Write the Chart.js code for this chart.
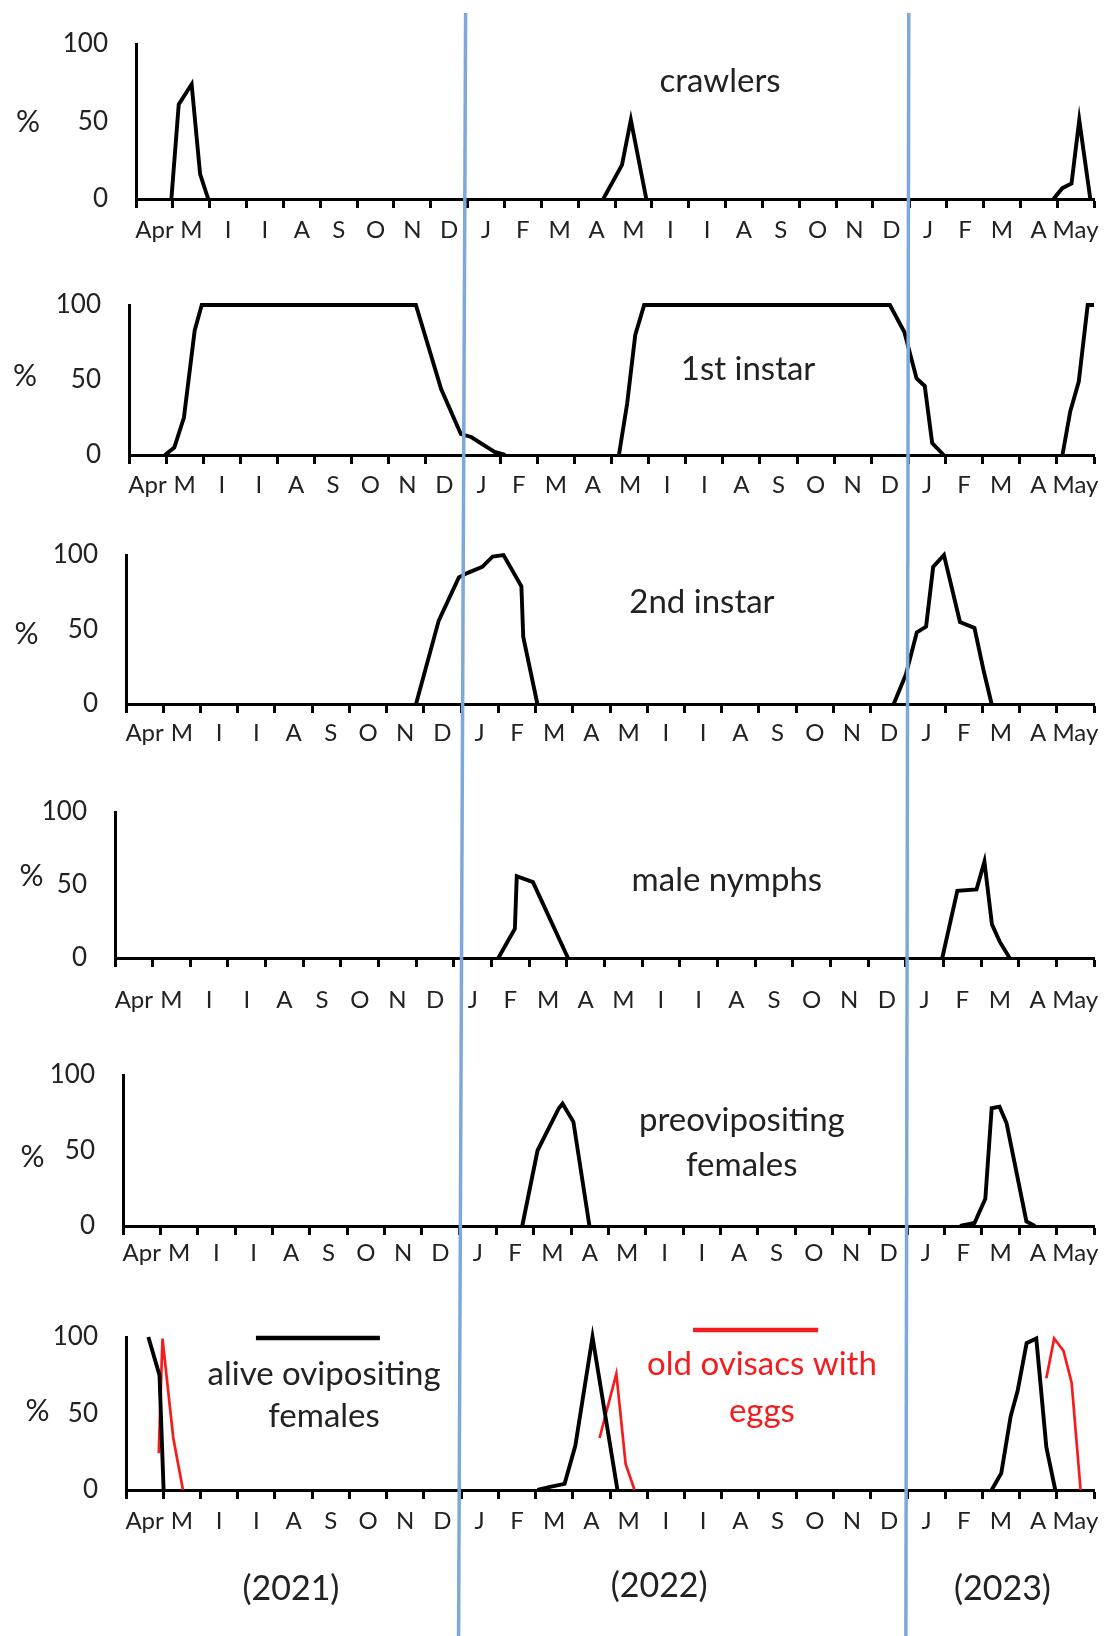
<!DOCTYPE html>
<html>
<head>
<meta charset="utf-8">
<script src="https://cdn.jsdelivr.net/npm/chart.js@4.4.1/dist/chart.umd.min.js"></script>
<style>
  html, body { margin: 0; padding: 0; background: #fff; }
  #fig { position: relative; width: 1114px; height: 1636px; overflow: hidden; background: #fff; }
  #fig canvas { position: absolute; left: 0; }
</style>
</head>
<body>
<div id="fig"></div>
<script>
// Month labels, April 2021 to May 2023 (one per monthly interval)
const months = ['Apr','M','I','I','A','S','O','N','D','J','F','M','A','M','I','I','A','S','O','N','D','J','F','M','A','May'];
const yTicks = [0, 50, 100];

// x = months elapsed since 1 April 2021, y = % ; null splits the seasons
const crawlersX = [0.96, 1.16, 1.51, 1.74, 1.96, null, 12.68, 13.19, 13.43, 13.85, null, 24.9, 25.14, 25.39, 25.6, 25.9];
const crawlersY = [0, 61, 74, 16, 0, null, 0, 22, 51, 0, null, 0, 7, 10, 51, 0];

const firstInstarX = [0.97, 1.22, 1.48, 1.77, 1.96, 7.73, 8.41, 8.94, 9.22, 9.85, 10.14, null, 13.2, 13.42, 13.64, 13.88, 20.5, 20.89, 21.22, 21.44, 21.64, 21.95, null, 25.15, 25.36, 25.59, 25.83, 26];
const firstInstarY = [0, 5, 25, 83, 100, 100, 44, 14, 12, 2, 0, null, 0, 34, 80, 100, 100, 82, 51, 46, 8, 0, null, 0, 29, 49, 100, 100];

const secondInstarX = [7.79, 8.4, 8.94, 9.18, 9.57, 9.85, 10.14, 10.62, 10.67, 11.05, null, 20.62, 20.95, 21.24, 21.49, 21.68, 21.97, 22.4, 22.79, 23.03, 23.25];
const secondInstarY = [0, 56, 85, 88, 92, 99, 100, 79, 45, 0, null, 0, 20, 48, 52, 92, 100, 55, 51, 23, 0];

const maleNymphsX = [10.18, 10.62, 10.67, 11.1, 12.03, null, 21.97, 22.37, 22.88, 23.09, 23.29, 23.5, 23.76];
const maleNymphsY = [0, 20, 56, 52, 0, null, 0, 46, 47, 66, 23, 11, 0];

const preovipositingX = [10.69, 11.1, 11.67, 11.77, 12.06, 12.49, null, 22.41, 22.8, 23.09, 23.26, 23.47, 23.66, 24.19, 24.42];
const preovipositingY = [0, 50, 78, 81, 69, 0, null, 0, 2, 18, 78, 79, 68, 3, 0];

const ovipositingX = [0.6, 0.9, 1.01, null, 11.05, 11.39, 11.78, 12.07, 12.53, 13.2, null, 23.25, 23.51, 23.76, 23.95, 24.19, 24.45, 24.72, 24.96];
const ovipositingY = [100, 75, 0, null, 0, 2, 4, 29, 100, 0, null, 0, 11, 48, 65, 96, 99, 28, 0];

const ovisacsX = [0.88, 0.98, 1.27, 1.53, null, 12.72, 13.17, 13.42, 13.66, null, 24.72, 24.93, 25.18, 25.4, 25.64];
const ovisacsY = [24, 99, 34, 0, null, 34, 76, 17, 0, null, 73, 99, 91, 70, 0];

const years = ['(2021)', '(2022)', '(2023)'];

// ---------------------------------------------------------------------------
const FONT = 'Lato, "Liberation Sans", Arial, sans-serif';
const INK = '#222';
const RED = '#f41c1c';
const BLUE = '#7ea7da';

function toPoints(xs, ys) {
  const pts = [];
  let lastX = 0;
  xs.forEach((x, i) => {
    if (x === null || ys[i] === null) { pts.push({ x: lastX, y: null }); }
    else { pts.push({ x: x, y: ys[i] }); lastX = x; }
  });
  return pts;
}

function lineSet(xs, ys, color, width) {
  return {
    data: toPoints(xs, ys),
    borderColor: color,
    borderWidth: width,
    pointRadius: 0,
    tension: 0,
    spanGaps: false,
    clip: false,
    fill: false
  };
}

// Text, key lines and the "%" caption, placed through the chart's scales
const notesPlugin = {
  id: 'notes',
  afterDraw(chart, args, opts) {
    const { ctx, scales: { x, y } } = chart;
    ctx.save();
    (opts.items || []).forEach(n => {
      if (n.kind === 'text') {
        ctx.font = n.size + 'px ' + FONT;
        ctx.fillStyle = n.color || INK;
        ctx.textAlign = 'center';
        ctx.textBaseline = 'middle';
        ctx.fillText(n.text, x.getPixelForValue(n.x), y.getPixelForValue(n.y));
      } else if (n.kind === 'key') {
        ctx.strokeStyle = n.color;
        ctx.lineWidth = n.width;
        ctx.beginPath();
        ctx.moveTo(x.getPixelForValue(n.x0), y.getPixelForValue(n.y));
        ctx.lineTo(x.getPixelForValue(n.x1), y.getPixelForValue(n.y));
        ctx.stroke();
      }
    });
    if (opts.pct) {
      ctx.font = '30px ' + FONT;
      ctx.fillStyle = INK;
      ctx.textAlign = 'center';
      ctx.textBaseline = 'middle';
      ctx.fillText('%', opts.pct[0], y.getPixelForValue(50) + opts.pct[1]);
    }
    ctx.restore();
  }
};

const panels = [
  { top: 0, height: 262, chartTop: 44, chartBottom: 199, left: 136, labelPad: 8, pct: [28, 0.5],
    sets: [lineSet(crawlersX, crawlersY, '#000', 3.9)],
    items: [{ kind: 'text', text: 'crawlers', x: 15.85, y: 75.9, size: 33 }] },
  { top: 262, height: 250, chartTop: 305, chartBottom: 455, left: 129, labelPad: 7, pct: [25, -3.5],
    sets: [lineSet(firstInstarX, firstInstarY, '#000', 3.9)],
    items: [{ kind: 'text', text: '1st instar', x: 16.68, y: 56.9, size: 33 }] },
  { top: 512, height: 258, chartTop: 555, chartBottom: 704, left: 126, labelPad: 6, pct: [26.5, 5],
    sets: [lineSet(secondInstarX, secondInstarY, '#000', 3.9)],
    items: [{ kind: 'text', text: '2nd instar', x: 15.47, y: 68.2, size: 33 }] },
  { top: 770, height: 262, chartTop: 812, chartBottom: 958, left: 115, labelPad: 19, pct: [31.5, -8.5],
    sets: [lineSet(maleNymphsX, maleNymphsY, '#000', 3.9)],
    items: [{ kind: 'text', text: 'male nymphs', x: 16.25, y: 53.4, size: 33 }] },
  { top: 1032, height: 268, chartTop: 1075, chartBottom: 1226, left: 123, labelPad: 4, pct: [32.5, 6.5],
    sets: [lineSet(preovipositingX, preovipositingY, '#000', 3.9)],
    items: [{ kind: 'text', text: 'preovipositing', x: 16.57, y: 70, size: 33 },
            { kind: 'text', text: 'females', x: 16.57, y: 40.3, size: 33 }] },
  { top: 1300, height: 336, chartTop: 1337, chartBottom: 1490, left: 126, labelPad: 8, pct: [37.5, -2],
    sets: [lineSet(ovipositingX, ovipositingY, '#000', 3.9), lineSet(ovisacsX, ovisacsY, RED, 2.7)],
    items: [
      { kind: 'key', x0: 3.49, x1: 6.82, y: 99.3, color: '#000', width: 4.5 },
      { kind: 'text', text: 'alive ovipositing', x: 5.32, y: 75.8, size: 33 },
      { kind: 'text', text: 'females', x: 5.32, y: 48.4, size: 33 },
      { kind: 'key', x0: 15.23, x1: 18.59, y: 104.6, color: RED, width: 4.5 },
      { kind: 'text', text: 'old ovisacs with', x: 17.08, y: 82.4, size: 33, color: RED },
      { kind: 'text', text: 'eggs', x: 17.08, y: 51.6, size: 33, color: RED },
      { kind: 'text', text: years[0], x: 4.43, y: -64.7, size: 34 },
      { kind: 'text', text: years[1], x: 14.32, y: -62.7, size: 34 },
      { kind: 'text', text: years[2], x: 23.54, y: -64.7, size: 34 }
    ] }
];

const fig = document.getElementById('fig');
const charts = [];

panels.forEach(p => {
  const cv = document.createElement('canvas');
  cv.width = 1114; cv.height = p.height;
  cv.style.top = p.top + 'px';
  cv.style.width = '1114px'; cv.style.height = p.height + 'px';
  fig.appendChild(cv);

  const below = p.top + p.height - p.chartBottom;
  const xAxisHeight = Math.min(below, 62);
  const chart = new Chart(cv.getContext('2d'), {
    type: 'line',
    data: { datasets: p.sets },
    options: {
      responsive: false,
      animation: false,
      devicePixelRatio: 1,
      layout: { padding: { top: p.chartTop - p.top, right: 20, bottom: below - xAxisHeight, left: 0 } },
      plugins: {
        legend: { display: false },
        tooltip: { enabled: false },
        notes: { items: p.items, pct: p.pct }
      },
      scales: {
        x: {
          type: 'linear',
          min: 0, max: 26,
          offset: false,
          afterBuildTicks: s => {
            const t = [];
            for (let v = 0; v <= 26; v += 0.5) t.push({ value: v });
            s.ticks = t;
          },
          afterFit: s => {
            s.height = xAxisHeight;
            s.paddingLeft = 0; s.paddingRight = 0;
          },
          border: { display: true, color: '#000', width: 3 },
          grid: {
            drawOnChartArea: false,
            drawTicks: true,
            tickLength: 9,
            tickWidth: 3,
            color: 'rgba(0,0,0,0)',
            tickColor: c => (c.tick && Number.isInteger(c.tick.value)) ? '#000' : 'rgba(0,0,0,0)'
          },
          ticks: {
            autoSkip: false,
            maxRotation: 0, minRotation: 0,
            padding: p.labelPad,
            color: INK,
            font: { family: FONT, size: 24 },
            callback: v => (Math.abs(v % 1 - 0.5) < 1e-6) ? months[Math.floor(v)] : ''
          }
        },
        y: {
          type: 'linear',
          min: 0, max: 100,
          afterBuildTicks: s => { s.ticks = yTicks.map(v => ({ value: v })); },
          afterFit: s => {
            s.width = p.left;
            s.paddingTop = 0; s.paddingBottom = 0;
          },
          border: { display: true, color: '#000', width: 3 },
          grid: { drawOnChartArea: false, drawTicks: false },
          ticks: {
            padding: 28,
            color: INK,
            font: { family: FONT, size: 26 }
          }
        }
      }
    },
    plugins: [notesPlugin]
  });
  charts.push({ chart, top: p.top });
});

// Year separators running through every panel (1 January 2022 and 1 January 2023)
const ov = document.createElement('canvas');
ov.width = 1114; ov.height = 1636;
ov.style.top = '0px';
fig.appendChild(ov);
const octx = ov.getContext('2d');
const first = charts[0].chart.scales.x;
const last = charts[charts.length - 1].chart.scales.x;
octx.strokeStyle = BLUE;
octx.lineWidth = 3.5;
[[9, -2, -2.5], [21, -1, -2]].forEach(([m, dTop, dBottom]) => {
  octx.beginPath();
  octx.moveTo(first.getPixelForValue(m) + dTop, 13);
  octx.lineTo(last.getPixelForValue(m) + dBottom, 1636);
  octx.stroke();
});
</script>
</body>
</html>
